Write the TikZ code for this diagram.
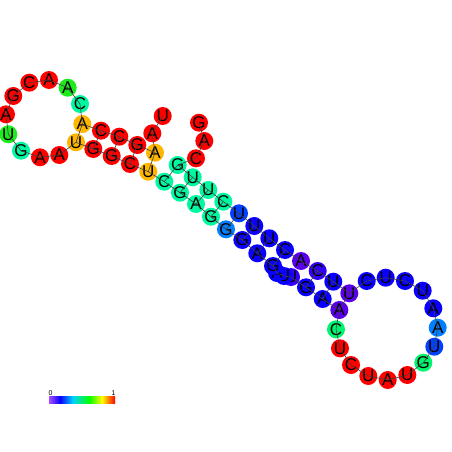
\documentclass[tikz,border=0pt]{standalone}
\usepackage{fontspec}
\setmainfont{Liberation Sans}
\definecolor{ntred}{RGB}{255,0,0}
\definecolor{ntorange}{RGB}{255,182,0}
\definecolor{ntgreen}{RGB}{30,235,30}
\definecolor{ntspring}{RGB}{0,245,110}
\definecolor{ntteal}{RGB}{0,248,160}
\definecolor{ntsky}{RGB}{0,128,255}
\definecolor{ntazure}{RGB}{0,64,255}
\definecolor{ntblue}{RGB}{10,0,255}
\definecolor{ntindigo}{RGB}{50,0,245}
\definecolor{ntviolet}{RGB}{90,0,235}
\definecolor{ntlilac}{RGB}{165,80,255}
\definecolor{ntcyan}{RGB}{0,210,255}
\begin{document}
\begin{tikzpicture}[x=1pt,y=-1pt,
    nuc/.style={circle, minimum size=18pt, inner sep=0pt, font=\fontsize{17}{17}\selectfont},
    bond/.style={draw=black!75, line width=0.6pt}]
    \useasboundingbox (0,0) rectangle (452,452);

    % nucleotides: index/x/y/base/colour
    \foreach \i/\x/\y/\base/\col in {
        1/199/122.7/G/ntred, 2/204.3/141/A/ntred, 3/196/158.3/C/ntred,
        4/177.7/165/G/ntteal, 5/192.7/177.3/U/ntteal, 6/208.3/190/U/ntteal,
        7/223.3/201.7/C/ntteal, 8/239/213.3/U/ntazure, 9/254.3/226/U/ntblue,
        10/269.3/238.3/U/ntblue, 11/285/250/C/ntblue, 12/301/261/A/ntviolet,
        13/317.7/271/C/ntindigo, 14/333.3/281.7/U/ntblue, 15/349.3/293.3/U/ntviolet,
        16/366.7/281/C/ntblue, 17/385.7/277.7/U/ntblue, 18/405/281/C/ntblue,
        19/422.7/290.7/U/ntblue, 20/433.3/308.3/A/ntblue, 21/437.7/327.7/A/ntsky,
        22/434.3/346.7/U/ntazure, 23/423.3/362.7/G/ntspring, 24/407.3/375/U/ntred,
        25/387.7/380/A/ntred, 26/368.3/376/U/ntred, 27/351/365/C/ntred,
        28/340/348.3/U/ntred, 29/336/329.3/C/ntspring, 30/339.3/310/A/ntviolet,
        31/322.7/299/A/ntblue, 32/306/287.3/G/ntblue, 33/291/277/U/ntindigo,
        34/284/276/U/ntblue, 35/277/273/A/ntblue, 36/273/266/G/ntblue,
        37/257.3/253.3/A/ntblue, 38/242.3/240/G/ntblue, 39/226/229.3/G/ntsky,
        40/211/216.7/G/ntteal, 41/196/204/A/ntteal, 42/180/192.7/G/ntteal,
        43/164.3/181.7/C/ntteal, 44/148.3/171.7/U/ntorange, 45/130/164/C/ntred,
        46/111.7/156/G/ntred, 47/93.3/149/G/ntred, 48/76/142.3/U/ntorange,
        49/59.3/155/A/ntred, 50/40/157.3/A/ntred, 51/21/150.7/G/ntteal,
        52/8.3/134.3/U/ntgreen, 53/6/114.3/A/ntred, 54/13.3/96/G/ntred,
        55/29.3/82.7/C/ntred, 56/49/80/A/ntred, 57/67.7/87.7/A/ntgreen,
        58/80/104/C/ntteal, 59/82.3/124/A/ntorange, 60/101/130.7/C/ntred,
        61/119.3/136.7/C/ntred, 62/137.3/145/G/ntred, 63/155/152.7/A/ntorange,
        64/152.3/133.3/A/ntred, 65/162.7/116/U/ntred}
        \node[nuc, fill=\col] (n\i) at (\x,\y) {\base};

    % backbone
    \foreach \i in {1,...,64} {
        \pgfmathtruncatemacro{\j}{\i+1}
        \draw[bond] (n\i.center) -- (n\j.center);
    }

    % base pairs
    \foreach \p/\q in {4/43, 5/42, 6/41, 7/40, 8/39, 9/38, 10/37, 11/36,
        13/32, 14/31, 15/30, 44/63, 45/62, 46/61, 47/60, 48/59}
        \draw[bond] (n\p.center) -- (n\q.center);

    % colour scale
    \shade[left color=ntlilac, right color=ntblue] (49,396) rectangle (60,403);
    \shade[left color=ntblue, right color=ntcyan] (60,396) rectangle (73,403);
    \shade[left color=ntcyan, right color=green] (73,396) rectangle (89,403);
    \shade[left color=green, right color=yellow] (89,396) rectangle (102,403);
    \shade[left color=yellow, right color=red] (102,396) rectangle (115,403);
    \node[above, inner sep=0.5pt, font=\fontsize{7}{7}\selectfont] (lo) at (50.5,396) {0};
    \node[above, inner sep=0.5pt, font=\fontsize{7}{7}\selectfont] (hi) at (113.5,396) {1};
\end{tikzpicture}
\end{document}
